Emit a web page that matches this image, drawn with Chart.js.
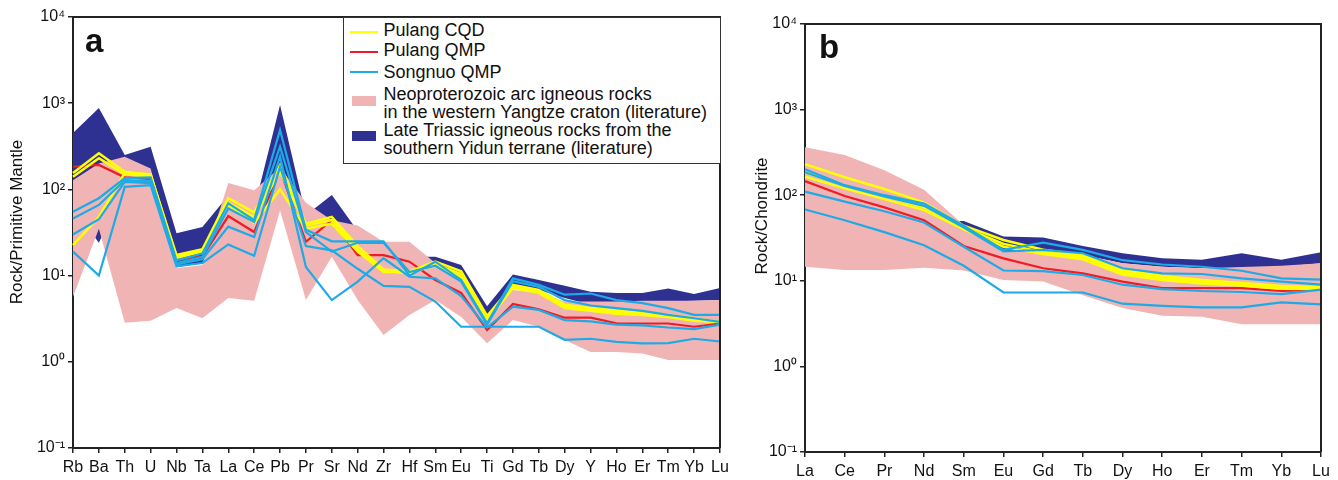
<!DOCTYPE html>
<html lang="en">
<head>
<meta charset="UTF-8" />
<title>Spider diagrams</title>
<script src="https://cdn.jsdelivr.net/npm/chart.js"></script>
<style>
  * { box-sizing: border-box; }
  body {
    margin: 0;
    background: #fff;
    color: #111;
    font-family: 'Liberation Sans', Arial, sans-serif;
  }
  .wrap { position: relative; width: 1338px; height: 480px; overflow: hidden; }
  canvas { position: absolute; top: 0; }
  #chartA { left: 0; }
  #chartB { left: 740px; }

  .tag { position: absolute; font-weight: bold; font-size: 33px; line-height: 33px; }

  /* rotated y-axis titles */
  .ytitle {
    position: absolute; width: 260px; height: 20px;
    font-size: 17px; line-height: 20px; text-align: center; white-space: nowrap;
    transform: rotate(-90deg); transform-origin: 50% 50%;
  }

  /* legend box of panel a */
  .legend {
    position: absolute; left: 343px; top: 17px;
    width: 378px; height: 147px;
    border: 1.5px solid #333; background: #fff;
  }
  .legend .ln { position: absolute; left: 5.5px; width: 28px; height: 2px; }
  .legend .sw { position: absolute; left: 7.8px; width: 24.5px; height: 10px; }
  .legend .tx {
    position: absolute; left: 39.5px;
    font-size: 18px; line-height: 18.3px; white-space: nowrap;
  }
</style>
</head>
<body>
<div class="wrap">
  <canvas id="chartA" width="740" height="480"></canvas>
  <canvas id="chartB" width="598" height="480"></canvas>

  <div class="tag" style="left:85px; top:24px;">a</div>
  <div class="tag" style="left:819px; top:30px;">b</div>

  <div class="ytitle" style="left:-113px; top:212px;">Rock/Primitive Mantle</div>
  <div class="ytitle" style="left:632px; top:206px;">Rock/Chondrite</div>

  <div class="legend">
    <div class="ln" style="top:12.8px; background:#ffff00;"></div>
    <div class="tx" style="top:2.8px;">Pulang CQD</div>
    <div class="ln" style="top:33.2px; background:#ee1c24;"></div>
    <div class="tx" style="top:23.4px;">Pulang QMP</div>
    <div class="ln" style="top:52.8px; background:#1eaae6;"></div>
    <div class="tx" style="top:44.6px;">Songnuo QMP</div>
    <div class="sw" style="top:77.5px; background:#f1b4b4;"></div>
    <div class="tx" style="top:66.8px;">Neoproterozoic arc igneous rocks<br>in the western Yangtze craton (literature)</div>
    <div class="sw" style="top:112.5px; background:#2e3192;"></div>
    <div class="tx" style="top:102.8px;">Late Triassic igneous rocks from the<br>southern Yidun terrane (literature)</div>
  </div>
</div>

<script>
  // ---- panel a: primitive-mantle normalised ----
  const pmElements = ['Rb','Ba','Th','U','Nb','Ta','La','Ce','Pb','Pr','Sr','Nd','Zr','Hf','Sm','Eu','Ti','Gd','Tb','Dy','Y','Ho','Er','Tm','Yb','Lu'];

  const pmNavyHigh = [451, 880, 250, 313, 31, 36.6, 85, 60, 953, 50, 86, 33, 21.6, 16.6, 16.5, 13.3, 4.4, 10.3, 8.9, 7.6, 6.5, 6.3, 6.3, 7.1, 6.1, 7.2];
  const pmNavyLow  = [60, 24, 100, 100, 12.5, 14, 60, 40, 150, 30, 40, 25, 18, 14, 13, 9, 3.0, 7.5, 6.8, 5.5, 4.6, 4.8, 4.9, 5.0, 5.1, 5.2];
  const pmPinkHigh = [128, 200, 239, 175, 12.2, 13.3, 119, 98, 180, 70, 44, 38, 24.7, 24.7, 14, 10, 3.5, 6.8, 6.3, 5.0, 5.0, 5.0, 5.1, 5.1, 5.1, 5.2];
  const pmPinkLow  = [5.7, 35, 2.84, 3.0, 4.2, 3.2, 5.5, 5.1, 57, 5.2, 16.6, 5.2, 2.05, 3.5, 5.2, 3.3, 1.64, 3.05, 2.55, 1.79, 1.3, 1.3, 1.25, 1.05, 1.05, 1.05];

  const pmCqd = [
    [155, 262, 160, 147, 17.3, 20.2, 79, 54, 192, 40, 48, 22, 11.8, 11.2, 14.5, 11.2, 3.4, 7.8, 6.8, 4.6, 4.2, 3.9, 3.7, 3.5, 3.2, 2.9],
    [22.6, 48, 155, 150, 16, 19, 66, 41, 100, 35, 40, 19, 11, 11, 13, 9.7, 3.0, 7.2, 6.3, 4.2, 3.9, 3.6, 3.5, 3.3, 3.0, 2.9],
    [140, 230, 150, 140, 16.5, 19.5, 70, 48, 160, 38, 44, 20, 11.5, 10.5, 13.5, 10.4, 3.2, 7.5, 6.5, 4.4, 4.0, 3.75, 3.6, 3.4, 3.1, 2.9]
  ];
  const pmPulangQmp = [183, 192, 138, 132, 15.2, 16.6, 49, 32, 168, 24.7, 44, 17.3, 17.3, 14.5, 8.9, 6.3, 2.34, 4.7, 4.06, 3.25, 3.25, 2.8, 2.78, 2.78, 2.55, 2.78];
  const pmSongnuo = [
    [55, 79, 135, 138, 15, 18, 69, 44, 489, 34, 25, 25, 25, 10, 14.5, 8.9, 2.8, 9.3, 7.8, 6.0, 6.2, 5.2, 4.8, 4.2, 3.5, 3.5],
    [46, 66, 128, 124, 14, 16.5, 60, 42, 313, 32, 19, 24, 24, 11, 13, 8.5, 2.7, 8.6, 7.4, 5.2, 4.5, 4.2, 3.9, 3.5, 3.2, 2.9],
    [30, 45, 122, 118, 13.5, 15.5, 37, 28, 240, 12.6, 5.2, 8.5, 15.9, 9.7, 9.3, 5.8, 2.5, 4.35, 4.0, 3.05, 2.95, 2.7, 2.65, 2.5, 2.4, 2.7],
    [19, 10, 107, 112, 12.8, 14, 23, 17, 183, 22, 19.6, 12, 7.6, 7.4, 5.0, 2.55, 2.55, 2.55, 2.55, 1.8, 1.85, 1.7, 1.64, 1.65, 1.85, 1.72]
  ];

  // ---- panel b: chondrite normalised REE ----
  const reeElements = ['La','Ce','Pr','Nd','Sm','Eu','Gd','Tb','Dy','Ho','Er','Tm','Yb','Lu'];

  const reeNavyHigh = [100, 80, 60, 50, 50, 33, 32, 25.5, 21, 18.3, 17.6, 21, 17.6, 21.5];
  const reeNavyLow  = [100, 80, 60, 50, 40, 20, 22, 20, 16, 14.6, 14, 14, 14.6, 16];
  const reePinkHigh = [363, 295, 195, 116, 45, 22, 22, 20, 16, 14.6, 14, 14.5, 15, 16];
  const reePinkLow  = [14.6, 13.4, 13.4, 14.2, 13.2, 10.2, 9.8, 6.8, 4.8, 3.9, 3.8, 3.1, 3.1, 3.1];

  const reeCqd = [
    [231, 162, 118, 82, 44, 30, 23, 20, 13.4, 11.4, 10.2, 9.4, 8.7, 8.4],
    [165, 120, 90, 67, 40, 25, 20.5, 17.8, 11.8, 10.2, 9.3, 8.8, 8.1, 8.0],
    [185, 130, 98, 72, 42, 27, 21.5, 19, 12.5, 10.8, 9.8, 9.1, 8.4, 8.2]
  ];
  const reePulangQmp = [146, 98, 72, 51, 25.5, 18.3, 14, 12.2, 9.8, 8.2, 8.2, 8.2, 7.6, 7.9];
  const reeSongnuo = [
    [201, 131, 100, 80, 44, 23, 27.9, 23, 17.4, 15.5, 14.6, 13.1, 10.7, 10.3],
    [185, 128, 97, 75, 42, 22, 23, 21, 14, 12.2, 12, 10.7, 9.8, 9.0],
    [110, 84, 65, 48, 25, 13.2, 13, 11.7, 9.0, 8.0, 7.6, 7.4, 7.0, 7.9],
    [68, 51, 37, 26, 15, 7.3, 7.3, 7.3, 5.4, 5.1, 4.9, 4.9, 5.6, 5.3]
  ];

  const yTicks = [0.1, 1, 10, 100, 1000, 10000];
  const sup = { '-1': '⁻¹', '0': '⁰', '1': '¹', '2': '²', '3': '³', '4': '⁴' };

  const COL = {
    cqd: '#ffff00', qmp: '#ee1c24', song: '#1eaae6',
    navy: '#2e3192', pink: '#f1b4b4', axis: '#222'
  };

  // top + right side of the plot frame
  const framePlugin = {
    id: 'frame',
    afterDraw(chart) {
      const { ctx, chartArea: a } = chart;
      ctx.save();
      ctx.strokeStyle = COL.axis;
      ctx.lineWidth = 2;
      ctx.beginPath();
      ctx.moveTo(a.left, a.top);
      ctx.lineTo(a.right, a.top);
      ctx.lineTo(a.right, a.bottom);
      ctx.stroke();
      ctx.restore();
    }
  };

  function band(high, low, color, order) {
    const none = 'rgba(0,0,0,0)';
    return [
      { data: high, fill: '+1', backgroundColor: color, borderColor: none, borderWidth: 0, order },
      { data: low, fill: false, borderColor: none, borderWidth: 0, order }
    ];
  }

  function line(data, color, order, width) {
    return { data, borderColor: color, borderWidth: width || 2.2, fill: false, order };
  }

  function buildDatasets(navyHi, navyLo, pinkHi, pinkLo, cqd, qmp, song) {
    return [
      ...band(navyHi, navyLo, COL.navy, 5),
      ...band(pinkHi, pinkLo, COL.pink, 4),
      line(qmp, COL.qmp, 3),
      ...cqd.map(d => line(d, COL.cqd, 2, 2.5)),
      ...song.map(d => line(d, COL.song, 1))
    ];
  }

  function makeOptions(pad, yWidth, xHeight) {
    return {
      responsive: false,
      animation: false,
      devicePixelRatio: 1,
      layout: { padding: pad },
      plugins: { legend: { display: false }, tooltip: { enabled: false } },
      elements: { point: { radius: 0 }, line: { tension: 0 } },
      scales: {
        x: {
          type: 'category',
          offset: false,
          border: { display: true, color: COL.axis, width: 2 },
          grid: { display: true, drawOnChartArea: false, drawTicks: true, tickLength: 5, color: COL.axis, lineWidth: 1.5 },
          ticks: {
            autoSkip: false, maxRotation: 0, minRotation: 0, padding: 5,
            color: '#111', font: { family: "'Liberation Sans', Arial, sans-serif", size: 16 }
          },
          afterFit: s => { s.height = xHeight; }
        },
        y: {
          type: 'logarithmic',
          min: 0.1, max: 10000,
          border: { display: true, color: COL.axis, width: 2 },
          grid: { display: true, drawOnChartArea: false, drawTicks: true, tickLength: 5, color: COL.axis, lineWidth: 1.5 },
          afterBuildTicks: s => { s.ticks = yTicks.map(v => ({ value: v })); },
          ticks: {
            padding: 3,
            color: '#111', font: { family: "'Liberation Sans', Arial, sans-serif", size: 16 },
            callback: v => '10' + sup[String(Math.round(Math.log10(v)))]
          },
          afterFit: s => { s.width = yWidth; }
        }
      }
    };
  }

  new Chart(document.getElementById('chartA'), {
    type: 'line',
    data: {
      labels: pmElements,
      datasets: buildDatasets(pmNavyHigh, pmNavyLow, pmPinkHigh, pmPinkLow, pmCqd, pmPulangQmp, pmSongnuo)
    },
    options: makeOptions({ top: 17, right: 20, left: 0, bottom: 0 }, 73, 32),
    plugins: [framePlugin]
  });

  new Chart(document.getElementById('chartB'), {
    type: 'line',
    data: {
      labels: reeElements,
      datasets: buildDatasets(reeNavyHigh, reeNavyLow, reePinkHigh, reePinkLow, reeCqd, reePulangQmp, reeSongnuo)
    },
    options: makeOptions({ top: 24, right: 17, left: 0, bottom: 0 }, 65, 28),
    plugins: [framePlugin]
  });
</script>
</body>
</html>
